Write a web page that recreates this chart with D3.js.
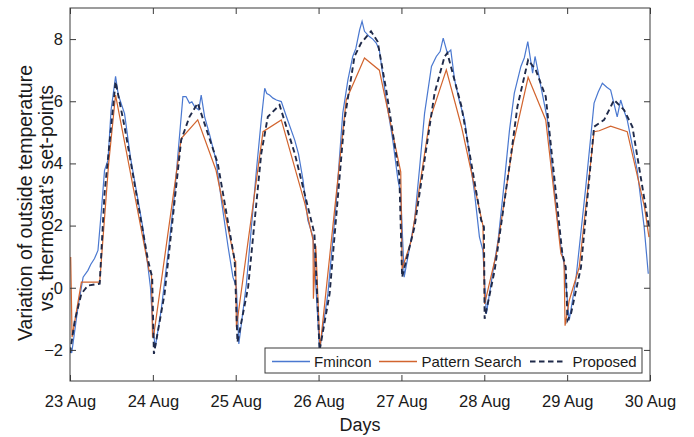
<!DOCTYPE html>
<html>
<head>
<meta charset="utf-8">
<script src="https://cdn.jsdelivr.net/npm/d3@7/dist/d3.min.js"></script>
<style>
  html, body { margin: 0; padding: 0; background: #fff; }
  svg { display: block; font-family: "Liberation Sans", Arial, sans-serif; }
</style>
</head>
<body>
<svg id="chart" width="694" height="437"></svg>
<script>
// ---- Data (hours since 23 Aug 00:00, value) ----
const xTickHours = [0, 24, 48, 72, 96, 120, 144, 168];
const xTickLabels = ["23 Aug", "24 Aug", "25 Aug", "26 Aug", "27 Aug", "28 Aug", "29 Aug", "30 Aug"];
const yTicks = [-2, 0, 2, 4, 6, 8];
const seriesNames = ["Fmincon", "Pattern Search", "Proposed"];

const fminconHours = [0, 0.5, 2.3, 3.8, 5.2, 6.0, 7.1, 8.1, 9.1, 10.0, 11.0, 11.9, 13.2, 14.0, 15.8, 17.5, 19.7, 21.0, 22.6, 23.3, 24.0, 24.7, 26.4, 28.5, 30.3, 31.7, 32.7, 33.6, 34.6, 35.3, 36.1, 37.3, 38.0, 39.0, 40.5, 42.3, 44.0, 45.8, 47.2, 48.2, 48.9, 51.1, 54.0, 55.4, 56.4, 57.0, 57.8, 58.8, 59.8, 61.2, 62.7, 65.1, 66.2, 67.5, 68.9, 70.4, 72.3, 74.7, 77.0, 79.0, 80.5, 81.9, 82.8, 83.9, 84.6, 85.3, 86.7, 87.7, 88.7, 89.6, 91.6, 93.5, 95.0, 95.8, 96.8, 99.8, 101.3, 102.7, 104.7, 106.1, 107.2, 108.1, 109.3, 110.3, 111.4, 112.8, 114.3, 117.2, 118.6, 119.6, 120.6, 122.2, 124.0, 125.8, 127.3, 128.7, 130.6, 131.6, 132.6, 134.0, 134.7, 135.5, 136.4, 138.3, 141.2, 142.2, 143.1, 144.6, 146.5, 149.4, 151.8, 153.0, 154.2, 155.5, 156.6, 158.5, 159.5, 160.3, 161.4, 164.3, 166.3, 167.5];
const fminconValues = [-1.9, -2.1, -0.63, 0.34, 0.56, 0.75, 0.94, 1.2, 2.49, 3.78, 4.1, 5.72, 6.8, 6.2, 5.6, 4.2, 2.82, 2.0, 0.66, 0.02, -1.27, -1.92, -0.73, 1.2, 3.03, 4.86, 6.15, 6.15, 5.94, 5.98, 5.83, 5.72, 6.2, 5.5, 4.9, 4.1, 2.7, 1.31, 0.34, 0.02, -1.81, 0.13, 3.78, 5.4, 6.42, 6.25, 6.2, 6.1, 6.04, 5.99, 5.5, 4.75, 4.3, 3.46, 2.17, 1.63, -2.02, -0.19, 2.6, 5.61, 6.69, 7.44, 7.7, 8.3, 8.57, 8.25, 8.08, 8.0, 7.87, 7.65, 6.04, 4.75, 3.46, 3.03, 0.34, 2.17, 3.9, 5.61, 7.12, 7.44, 7.6, 8.03, 7.55, 7.65, 6.69, 6.0, 5.4, 3.03, 1.63, 1.2, -0.84, 0.3, 1.53, 3.4, 5.07, 6.26, 7.12, 7.4, 7.92, 6.9, 7.44, 7.0, 6.47, 5.4, 2.17, 1.31, 0.77, -1.05, 0.24, 3.25, 5.94, 6.3, 6.58, 6.45, 6.36, 5.5, 6.04, 5.75, 5.4, 3.78, 1.96, 0.45];

const patternHours = [0.2, 0.6, 3.3, 8.6, 11.2, 13.2, 22.9, 23.6, 23.9, 24.3, 32.2, 37.0, 42.3, 47.7, 48.0, 48.2, 55.9, 61.2, 68.0, 70.4, 70.5, 71.2, 72.4, 80.0, 85.3, 89.6, 95.8, 96.2, 98.9, 104.2, 109.0, 113.4, 119.6, 120.1, 123.5, 128.2, 132.7, 137.8, 142.2, 143.1, 143.4, 144.6, 147.5, 151.8, 153.3, 156.6, 161.4, 166.4, 167.7];
const patternValues = [0.99, -1.59, 0.18, 0.18, 4.0, 6.2, 0.56, 0.45, -1.6, -1.5, 4.8, 5.4, 3.78, 0.88, 0.85, -1.27, 5.02, 5.4, 2.72, 1.53, -0.35, 1.35, -1.96, 6.04, 7.39, 7.0, 3.73, 0.61, 1.53, 5.4, 7.01, 5.18, 2.01, -0.52, 1.1, 4.54, 6.77, 5.4, 1.1, 0.88, -1.22, -0.41, 0.66, 5.02, 5.05, 5.2, 5.02, 2.6, 1.63];

const proposedHours = [0, 1.4, 3.3, 5.2, 8.6, 10.0, 13.2, 15.8, 22.6, 23.8, 24.3, 27.4, 32.2, 34.6, 37.0, 42.8, 47.7, 48.5, 51.6, 55.4, 57.3, 60.7, 65.1, 70.8, 72.3, 75.2, 79.5, 82.4, 84.3, 87.2, 89.1, 91.6, 95.4, 96.2, 99.8, 105.6, 108.5, 109.3, 113.4, 119.1, 119.9, 120.1, 123.0, 127.8, 129.6, 132.7, 134.9, 137.8, 142.6, 143.6, 144.1, 145.1, 148.0, 151.8, 154.7, 157.6, 160.5, 162.9, 167.7];
const proposedValues = [-2.1, -1.05, -0.19, 0.07, 0.13, 3.03, 6.63, 5.18, 0.88, 0.34, -2.13, -0.19, 4.75, 5.5, 5.94, 4.0, 0.88, -1.75, 0.02, 4.32, 5.5, 5.88, 4.32, 1.74, -2.02, -0.19, 5.4, 7.44, 7.87, 8.25, 7.92, 6.36, 3.6, 0.34, 1.96, 6.26, 7.44, 7.55, 5.83, 2.17, 1.96, -1.0, 0.56, 4.32, 5.83, 7.33, 7.01, 6.15, 1.1, 0.66, -1.05, -0.84, 0.66, 5.18, 5.4, 6.04, 5.72, 5.18, 1.96];

// ---- Layout ----
const svg = d3.select("#chart");
const L = 70, R = 650, T = 8, B = 381;
const x = d3.scaleLinear().domain([0, 168]).range([L, R]);
const y = d3.scaleLinear().domain([-3, 9]).range([B, T]);

const axisColor = "#3a3a3a";
const colors = { "Fmincon": "#4a78d0", "Pattern Search": "#d2642e", "Proposed": "#1f2a4a" };

const zip = (hs, vs) => hs.map((h, i) => ({ h, v: vs[i] }));
const line = d3.line().x(d => x(d.h)).y(d => y(d.v));

svg.append("clipPath").attr("id", "clip").append("rect")
  .attr("x", L).attr("y", T).attr("width", R - L).attr("height", B - T);

const g = svg.append("g").attr("clip-path", "url(#clip)");
g.append("path").datum(zip(fminconHours, fminconValues)).attr("d", line)
  .attr("fill", "none").attr("stroke", colors["Fmincon"]).attr("stroke-width", 1.2);
g.append("path").datum(zip(patternHours, patternValues)).attr("d", line)
  .attr("fill", "none").attr("stroke", colors["Pattern Search"]).attr("stroke-width", 1.2);
g.append("path").datum(zip(proposedHours, proposedValues)).attr("d", line)
  .attr("fill", "none").attr("stroke", colors["Proposed"]).attr("stroke-width", 1.9)
  .attr("stroke-dasharray", "5.5,3.5");

// ---- Axes ----
const tickLen = 6;
const fmtX = (d) => xTickLabels[xTickHours.indexOf(d)];
const xAxisB = d3.axisBottom(x).tickValues(xTickHours).tickFormat(fmtX).tickSizeInner(-tickLen).tickSizeOuter(0).tickPadding(14);
const xAxisT = d3.axisTop(x).tickValues(xTickHours).tickFormat("").tickSizeInner(-tickLen).tickSizeOuter(0);
const yAxisL = d3.axisLeft(y).tickValues(yTicks).tickSizeInner(-tickLen).tickSizeOuter(0).tickPadding(7);
const yAxisR = d3.axisRight(y).tickValues(yTicks).tickFormat("").tickSizeInner(-tickLen).tickSizeOuter(0);

function style(sel, fs) {
  sel.select(".domain").remove();
  sel.selectAll(".tick line").attr("stroke", axisColor);
  sel.selectAll(".tick text").attr("fill", "#1a1a1a").style("font-size", fs + "px")
    .style("font-family", "'Liberation Sans', Arial, sans-serif");
}
svg.append("g").attr("transform", `translate(0,${B})`).call(xAxisB).call(s => style(s, 16.5));
svg.append("g").attr("transform", `translate(0,${T})`).call(xAxisT).call(s => style(s, 16));
svg.append("g").attr("transform", `translate(${L},0)`).call(yAxisL).call(s => style(s, 16.5));
svg.append("g").attr("transform", `translate(${R},0)`).call(yAxisR).call(s => style(s, 16));

svg.append("rect").attr("x", L).attr("y", T).attr("width", R - L).attr("height", B - T)
  .attr("fill", "none").attr("stroke", axisColor).attr("stroke-width", 1);

// ---- Titles ----
svg.append("text").attr("x", (L + R) / 2).attr("y", 431).attr("text-anchor", "middle")
  .attr("fill", "#1a1a1a").style("font-size", "18px").text("Days");
const yl = svg.append("text").attr("transform", "rotate(-90)")
  .attr("text-anchor", "middle").attr("fill", "#1a1a1a").style("font-size", "19.5px");
yl.append("tspan").attr("x", -203).attr("y", 32).text("Variation of outside temperature");
yl.append("tspan").attr("x", -198).attr("y", 53).text("vs. thermostat\u2019s set-points");

// ---- Legend ----
const lg = svg.append("g");
lg.append("rect").attr("x", 265).attr("y", 348).attr("width", 377).attr("height", 25)
  .attr("fill", "#fff").attr("stroke", "#3a3a3a").attr("stroke-width", 1);
const legendItems = [
  { name: seriesNames[0], x1: 272, x2: 310, tx: 314, dash: null, w: 1.4 },
  { name: seriesNames[1], x1: 379, x2: 417, tx: 421.5, dash: null, w: 1.4 },
  { name: seriesNames[2], x1: 530, x2: 564, tx: 572.5, dash: "5.5,3.5", w: 1.9 }
];
legendItems.forEach(it => {
  const ln = lg.append("line").attr("x1", it.x1).attr("x2", it.x2).attr("y1", 361.5).attr("y2", 361.5)
    .attr("stroke", colors[it.name]).attr("stroke-width", it.w);
  if (it.dash) ln.attr("stroke-dasharray", it.dash);
  lg.append("text").attr("x", it.tx).attr("y", 366.5).attr("fill", "#1a1a1a")
    .style("font-size", "15px").text(it.name);
});
</script>
</body>
</html>
